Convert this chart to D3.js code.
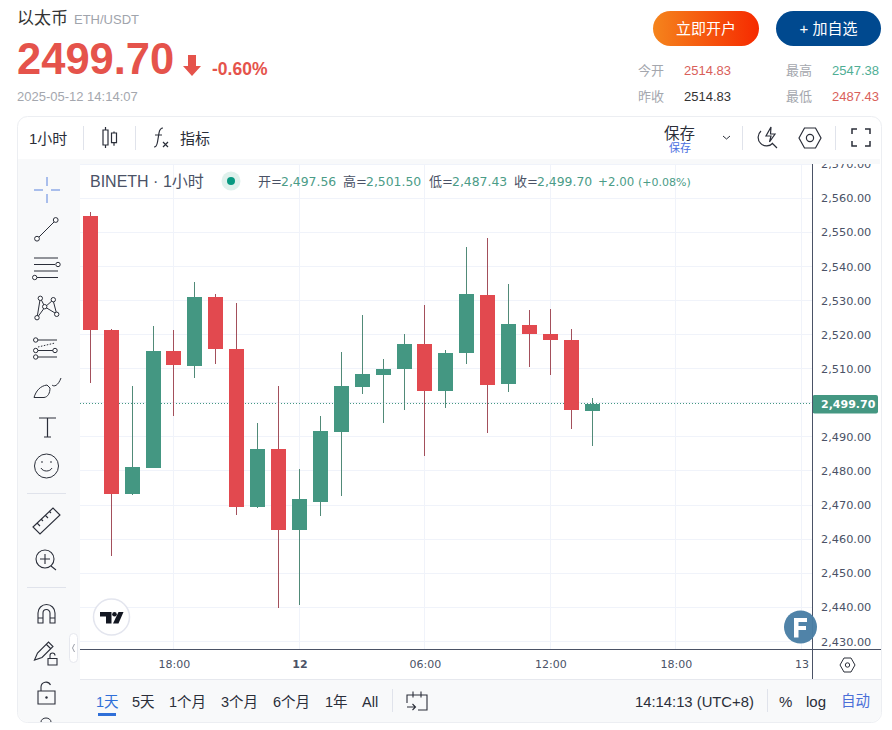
<!DOCTYPE html>
<html>
<head>
<meta charset="utf-8">
<script src="https://cdn.jsdelivr.net/npm/d3@7"></script>
<style>
html, body { margin: 0; padding: 0; background: #fff; }
svg { display: block; }
text { font-family: "Liberation Sans", "Noto Sans CJK SC", sans-serif; }
.num { font-family: "DejaVu Sans", "Noto Sans CJK SC", sans-serif; }
</style>
</head>
<body>
<svg id="chart" width="892" height="730"></svg>
<script>
// hours since 14:00 on the 11th, one candle per hour
hours = [0,1,2,3,4,5,6,7,8,9,10,11,12,13,14,15,16,17,18,19,20,21,22,23,24];
opens = [2554.9,2521.3,2473.1,2481.0,2515.3,2510.7,2530.9,2515.9,2469.3,2486.3,2462.6,2470.8,2491.3,2504.5,2508.1,2509.8,2517.1,2503.4,2514.5,2531.7,2505.4,2522.9,2520.3,2518.5,2497.56];
highs = [2556.1,2521.5,2505.0,2522.4,2521.2,2535.3,2532.0,2529.4,2494.2,2504.8,2480.7,2496.0,2515.0,2525.6,2512.7,2520.3,2528.8,2515.6,2545.8,2548.2,2534.7,2527.3,2527.6,2521.5,2501.50];
lows = [2505.7,2455.0,2472.8,2481.0,2496.2,2507.2,2511.3,2467.0,2469.0,2439.7,2440.6,2466.7,2472.6,2502.5,2494.0,2497.8,2484.3,2498.4,2511.3,2491.1,2503.1,2510.4,2508.1,2492.2,2487.43];
closes = [2521.3,2473.1,2481.3,2515.3,2511.0,2530.9,2515.7,2469.3,2486.3,2462.6,2471.9,2491.6,2504.8,2508.3,2510.0,2517.1,2503.4,2514.7,2532.0,2505.1,2523.2,2520.1,2518.3,2497.8,2499.70];
lastPrice = 2499.70;
priceTicks = [2430,2440,2450,2460,2470,2480,2490,2500,2510,2520,2530,2540,2550,2560,2570];
timeLabels = ['18:00','12','06:00','12:00','18:00','13'];
timeTickHours = [4,10,16,22,28,34];
ranges = ['1天','5天','1个月','3个月','6个月','1年','All'];
rangeX = [96,132,169,221,273,325,362];

RED = '#e2494f';
GREEN = '#449782';
ICON = '#2a2e39';

svg = d3.select('#chart');

function txt(x, y, s, size, color, opts) {
    opts = opts || {};
    t = svg.append('text')
        .attr('x', x).attr('y', y)
        .attr('font-size', size)
        .attr('fill', color)
        .text(s);
    if (opts.cls) t.attr('class', opts.cls);
    if (opts.weight) t.attr('font-weight', opts.weight);
    if (opts.anchor) t.attr('text-anchor', opts.anchor);
    return t;
}

function icon(d, sw, color) {
    return svg.append('path')
        .attr('d', d)
        .attr('fill', 'none')
        .attr('stroke', color || ICON)
        .attr('stroke-width', sw || 1);
}

function dot(x, y, r) {
    svg.append('circle').attr('cx', x).attr('cy', y).attr('r', r)
        .attr('fill', '#fff').attr('stroke', ICON).attr('stroke-width', 1);
}

function sep(x1, y1, x2, y2) {
    svg.append('line').attr('x1', x1).attr('y1', y1).attr('x2', x2).attr('y2', y2)
        .attr('stroke', '#e0e3eb').attr('stroke-width', 1);
}

// ---- page header ----
defs = svg.append('defs');
grad = defs.append('linearGradient').attr('id', 'orange');
grad.append('stop').attr('offset', '0%').attr('stop-color', '#f5841c');
grad.append('stop').attr('offset', '100%').attr('stop-color', '#f62a00');

txt(17, 24, '以太币', 17, '#333');
txt(74, 24, 'ETH/USDT', 13, '#a0a4ac');
txt(17, 74, '2499.70', 43.5, '#e5534b', {weight: 'bold'});
svg.append('path').attr('d', 'M188 55h8v11h5l-9 10l-9 -10h5z').attr('fill', '#e5534b');
txt(212, 75, '-0.60%', 17.5, '#e5534b', {weight: 'bold'});
txt(17, 101, '2025-05-12 14:14:07', 13, '#a4a7ae');

svg.append('rect').attr('x', 653).attr('y', 11).attr('width', 106).attr('height', 35)
    .attr('rx', 17.5).attr('fill', 'url(#orange)');
svg.append('rect').attr('x', 776).attr('y', 11).attr('width', 105).attr('height', 35)
    .attr('rx', 17.5).attr('fill', '#00498f');
txt(706, 34, '立即开户', 15, '#fff', {anchor: 'middle'});
txt(828.5, 34, '+ 加自选', 15, '#fff', {anchor: 'middle'});

txt(638, 75, '今开', 13, '#a4a7ae');
txt(684, 75, '2514.83', 13, '#d9605a');
txt(786, 75, '最高', 13, '#a4a7ae');
txt(832, 75, '2547.38', 13, '#4fae95');
txt(638, 101, '昨收', 13, '#a4a7ae');
txt(684, 101, '2514.83', 13, '#333');
txt(786, 101, '最低', 13, '#a4a7ae');
txt(832, 101, '2487.43', 13, '#d9605a');

// ---- card ----
svg.append('rect').attr('x', 17.5).attr('y', 116.5).attr('width', 864).attr('height', 606)
    .attr('rx', 10).attr('fill', '#fff').attr('stroke', '#eceef2');
svg.append('rect').attr('x', 18).attr('y', 159).attr('width', 862).attr('height', 5).attr('fill', '#f8f9fa');
svg.append('rect').attr('x', 18).attr('y', 159).attr('width', 62).attr('height', 556).attr('fill', '#f8f9fa');
svg.append('path').attr('d', 'M18 680H881V712a10 10 0 0 1 -10 10H28a10 10 0 0 1 -10 -10z').attr('fill', '#f8f9fa');

// ---- scales ----
x = d3.scaleLinear().domain([0, 24]).range([90.3, 592.3]);
y = d3.scaleLinear().domain([2440, 2550]).range([607.3, 232.3]);

defs.append('clipPath').attr('id', 'pane').append('rect')
    .attr('x', 80).attr('y', 164).attr('width', 732).attr('height', 485);
defs.append('clipPath').attr('id', 'axisclip').append('rect')
    .attr('x', 813).attr('y', 164).attr('width', 68).attr('height', 485);

pane = svg.append('g').attr('clip-path', 'url(#pane)');

// grid
pane.selectAll('.hgrid').data(priceTicks).enter().append('line')
    .attr('x1', 80).attr('x2', 812)
    .attr('y1', function(d) { return Math.floor(y(d)) + 0.5; })
    .attr('y2', function(d) { return Math.floor(y(d)) + 0.5; })
    .attr('stroke', '#f0f3fa');
pane.selectAll('.vgrid').data(timeTickHours).enter().append('line')
    .attr('y1', 164).attr('y2', 650)
    .attr('x1', function(d) { return Math.floor(x(d)) + 0.5; })
    .attr('x2', function(d) { return Math.floor(x(d)) + 0.5; })
    .attr('stroke', '#f0f3fa');

// last price line
pane.append('line')
    .attr('x1', 80).attr('x2', 812)
    .attr('y1', Math.floor(y(lastPrice)) + 0.5).attr('y2', Math.floor(y(lastPrice)) + 0.5)
    .attr('stroke', GREEN).attr('stroke-width', 1).attr('stroke-dasharray', '1 2');

// candles
function cx(i) { return Math.round(x(i) - 7.5) + 7.5; }
candles = pane.selectAll('.candle').data(hours).enter().append('g');
candles.append('line')
    .attr('x1', cx)
    .attr('x2', cx)
    .attr('y1', function(i) { return Math.round(y(highs[i])); })
    .attr('y2', function(i) { return Math.round(y(lows[i])); })
    .attr('stroke', function(i) { return closes[i] >= opens[i] ? '#518a78' : '#a34f5b'; });
candles.append('rect')
    .attr('x', function(i) { return cx(i) - 7.5; })
    .attr('width', 15)
    .attr('y', function(i) { return Math.round(y(Math.max(opens[i], closes[i]))); })
    .attr('height', function(i) { return Math.round(y(Math.min(opens[i], closes[i]))) - Math.round(y(Math.max(opens[i], closes[i]))); })
    .attr('fill', function(i) { return closes[i] >= opens[i] ? GREEN : RED; });

// ---- legend ----
txt(90, 187, 'BINETH · 1小时', 16, '#4a5266');
svg.append('circle').attr('cx', 231).attr('cy', 181).attr('r', 9.5).attr('fill', '#dff1ec');
svg.append('circle').attr('cx', 231).attr('cy', 181).attr('r', 4).attr('fill', '#089981');
legendLabels = ['开=','高=','低=','收='];
legendValues = ['2,497.56','2,501.50','2,487.43','2,499.70'];
legendX = [258,343,429,514];
legendLabels.forEach(function(l, i) {
    txt(legendX[i], 186, l, 13, '#4a5266', {cls: 'num'});
    txt(legendX[i] + 23, 186, legendValues[i], 12.4, '#4b9c87', {cls: 'num'});
});
txt(598, 186, '+2.00', 11.8, '#4b9c87', {cls: 'num'});
txt(638, 186, '(+0.08%)', 11, '#4b9c87', {cls: 'num'});

// ---- price axis ----
yAxis = svg.append('g').attr('clip-path', 'url(#axisclip)').append('g')
    .attr('transform', 'translate(821,0)')
    .call(d3.axisRight(y).tickValues(priceTicks).tickSize(0).tickPadding(0)
        .tickFormat(function(d) { return d == 2500 ? '' : d3.format(',.2f')(d); }));
yAxis.select('.domain').remove();
yAxis.selectAll('text').attr('class', 'num').attr('font-size', 11.3).attr('fill', '#4a5266');

svg.append('rect').attr('x', 812.5).attr('y', 395).attr('width', 65.5).attr('height', 18.5)
    .attr('rx', 2).attr('fill', GREEN);
txt(821, y(lastPrice) + 4, '2,499.70', 11, '#fff', {cls: 'num', weight: 'bold'});

// ---- time axis ----
xAxis = svg.append('g').attr('transform', 'translate(0,650)')
    .call(d3.axisBottom(x).tickValues(timeTickHours).tickSize(0).tickPadding(10)
        .tickFormat(function(d, i) { return timeLabels[i]; }));
xAxis.select('.domain').remove();
xAxis.selectAll('text').attr('class', 'num').attr('font-size', 11).attr('fill', '#4a5266')
    .attr('font-weight', function(d, i) { return timeLabels[i] == '12' ? 'bold' : null; });

svg.append('line').attr('x1', 80).attr('x2', 881).attr('y1', 649.5).attr('y2', 649.5).attr('stroke', '#4a5266');
svg.append('line').attr('x1', 812.5).attr('x2', 812.5).attr('y1', 164).attr('y2', 679).attr('stroke', '#4a5266');
svg.append('line').attr('x1', 80).attr('x2', 881).attr('y1', 679.5).attr('y2', 679.5).attr('stroke', '#e6e8ee');
svg.append('path').attr('d', 'M840 665l4 -7h7l4 7l-4 7h-7z').attr('fill', 'none').attr('stroke', ICON);
svg.append('circle').attr('cx', 847.5).attr('cy', 665).attr('r', 2.2).attr('fill', 'none').attr('stroke', ICON);

// ---- logos ----
svg.append('circle').attr('cx', 111.5).attr('cy', 617).attr('r', 18).attr('fill', '#fff').attr('stroke', '#e3e5ee').attr('stroke-width', 1.5);
svg.append('path').attr('d', 'M100 612h11.5v11.5h-5.5v-7h-6z').attr('fill', '#131722');
svg.append('circle').attr('cx', 114.5).attr('cy', 614.3).attr('r', 2.3).attr('fill', '#131722');
svg.append('path').attr('d', 'M118.5 612h5l-5 11.5h-5.5z').attr('fill', '#131722');

svg.append('circle').attr('cx', 800.5).attr('cy', 627).attr('r', 16.5).attr('fill', '#4a7fa5').attr('opacity', 0.97);
svg.append('path').attr('d', 'M794 618h13v4h-8.5v4h7.5v4h-7.5v7.5h-4.5z').attr('fill', '#fff');

// ---- top toolbar ----
txt(29, 144, '1小时', 15, '#2a2e39');
sep(83.5, 126, 83.5, 150);
sep(135.5, 126, 135.5, 150);
icon('M105.5 127v3M105.5 145v3M103 130h5v15h-5z M114 131.5v1.5M114 142.7v3M111.5 133h5v9.7h-5z', 1.2);
icon('M154 147c2.5 0 3 -2 3.5 -5l1.5 -9c.5 -3 1.5 -5 4 -5M155 135h7M163 142l5 5M168 142l-5 5', 1.2);
txt(180, 144, '指标', 15, '#2a2e39');
txt(664, 139, '保存', 15.5, '#2a2e39');
txt(669, 152, '保存', 11, '#4a6ee0');
icon('M723 136l3.5 3l3.5 -3', 1);
sep(742.5, 126, 742.5, 150);
icon('M761 131A8.5 8.5 0 1 0 773 143M772 143l5 5M771 127l-5 9h5l-1.5 6l5.5 -8h-4.5z', 1.2);
icon('M799 138l5.5 -10h11l5.5 10l-5.5 10h-11z', 1.2);
svg.append('circle').attr('cx', 810).attr('cy', 138).attr('r', 3.6).attr('fill', 'none').attr('stroke', ICON).attr('stroke-width', 1.2);
sep(835.5, 126, 835.5, 150);
icon('M852 134v-5h5M865 129h5v5M870 141v5h-5M857 146h-5v-5', 1.5);

// ---- left toolbar ----
icon('M47 177v9M47 194v9M34 190h9M51 190h9', 1.5, '#8faae8');
icon('M39 237L54 222', 1); dot(37, 238.7, 2.4); dot(55.7, 220, 2.4);
icon('M34 258h24M34 264.5h21M34 271h24M37 277.5h21', 1); dot(58, 264.5, 2.2); dot(34.7, 277.5, 2.2);
icon('M37 318L40.3 298L45 307L53 300L56.7 314L45 307L37 318', 1);
[[40.3,298.3],[53.3,299.7],[44.7,306.7],[37,317.7],[56.7,314.3]].forEach(function(p) { dot(p[0], p[1], 2.2); });
icon('M38 340h19M38 350.5h15M38 357h19', 1); dot(35.7, 340, 2.2); dot(35.7, 350.5, 2.2); dot(55, 350.5, 2.2); dot(35.7, 357, 2.2);
icon('M38 347L55 343', 1).attr('stroke-dasharray', '1.5 1.5');
icon('M34 397.5H44C48 397 50 393 50 388L47 385C40 386 36 391 34 397.5zM52 385C54 387 58 386 61 378', 1);
icon('M39 418h17M47.5 418v19M44 437h7', 1.2);
svg.append('circle').attr('cx', 46.5).attr('cy', 466).attr('r', 12).attr('fill', 'none').attr('stroke', ICON);
icon('M41 468c2 4 9 4 11 0', 1); dot(42, 462, .4); dot(51, 462, .4);
sep(27, 493.5, 66, 493.5);
icon('M33 527L53 508L60 515L40 534zM37 523l3 3M41 519l2 2M45 515l3 3M49 511l2 2', 1.1);
svg.append('circle').attr('cx', 45).attr('cy', 559).attr('r', 9).attr('fill', 'none').attr('stroke', ICON).attr('stroke-width', 1.1);
icon('M51 566l5 4M45 554v10M40 559h10', 1.1);
sep(27, 587.5, 66, 587.5);
icon('M38 623v-10a8.5 8.5 0 0 1 17 0v10h-5v-10a3.5 3.5 0 0 0 -7 0v10zM38 618h5M50 618h5', 1.1);
icon('M34.5 660l3 -7l11 -11l4.5 4.5l-11 11zM46 644l4.5 4.5', 1.1);
icon('M48 665h9v-6.5h-9zM50 658.5v-3a2.5 2.5 0 0 1 5 0', 1.1);
icon('M38 691h17v13h-17zM41 691v-4a5 5 0 0 1 9.5 -2', 1.1);
svg.append('circle').attr('cx', 46.5).attr('cy', 697.5).attr('r', 1.2).attr('fill', ICON);
icon('M41 722a5 4 0 0 1 10 0', 1);
svg.append('rect').attr('x', 69.5).attr('y', 633.5).attr('width', 8).attr('height', 29).attr('rx', 4).attr('fill', '#fff').attr('stroke', '#e6e8ee');
icon('M74.5 644l-2 4l2 4', 1, '#9a9ea8');

// ---- bottom bar ----
ranges.forEach(function(r, i) {
    txt(rangeX[i], 707, r, 14.5, i == 0 ? '#2f6fd8' : '#2a2e39');
});
svg.append('rect').attr('x', 98).attr('y', 713).attr('width', 18).attr('height', 3).attr('fill', '#2f6fd8');
sep(392.5, 689, 392.5, 712);
icon('M407 703v-8h20v15h-9M413 691.5v6M421 691.5v6M407 707h8M412.5 704l3 3l-3 3', 1.1);
txt(635, 707, '14:14:13 (UTC+8)', 14.8, '#2a2e39');
sep(767.5, 689, 767.5, 712);
txt(779, 707, '%', 15, '#2a2e39');
txt(806, 707, 'log', 15, '#2a2e39');
txt(841, 706, '自动', 14.5, '#4a6fd8');
</script>
</body>
</html>
